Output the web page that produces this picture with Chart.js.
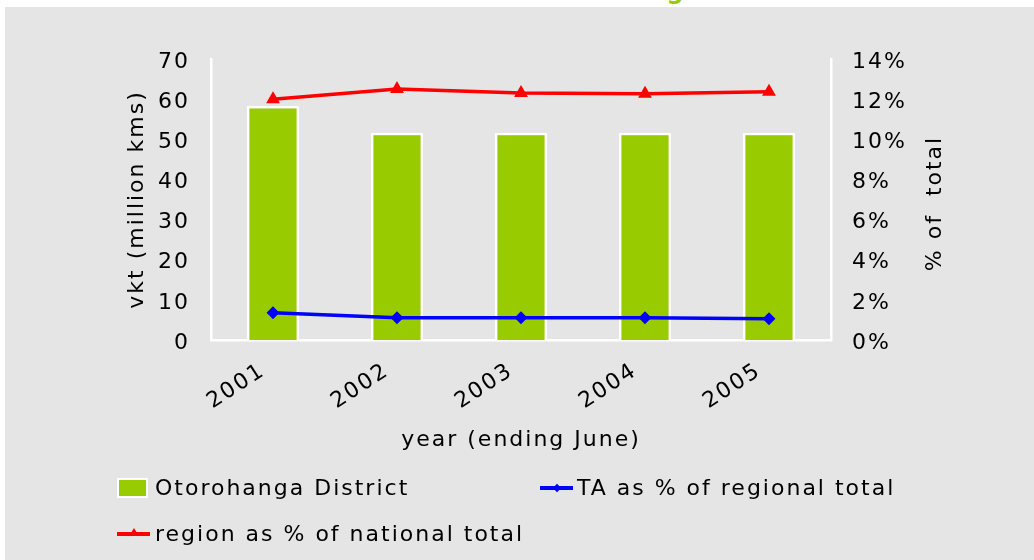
<!DOCTYPE html>
<html lang="en">
  <head>
    <meta charset="UTF-8" />
    <title>Otorohanga vkt</title>
    <script src="https://cdn.jsdelivr.net/npm/chart.js"></script>
    <style>
      body {
        margin: 0;
        width: 1034px;
        height: 560px;
        overflow: hidden;
        background: #ffffff;
        font-family: 'DejaVu Sans', sans-serif;
        letter-spacing: 2px;
        color: #000;
      }
      .panel {
        position: absolute;
        left: 5px;
        top: 7px;
        right: 0;
        bottom: 0;
        background: #e5e5e5;
      }
      .title {
        position: absolute;
        right: 334px;
        top: -21px;
        font-size: 24px;
        line-height: 1;
        font-weight: bold;
        letter-spacing: 0;
        color: #99cc00;
        white-space: nowrap;
      }
      .wrap {
        position: absolute;
        left: 0;
        top: 0;
        width: 1034px;
        height: 560px;
      }
      .legend-item {
        position: absolute;
        font-size: 22px;
        line-height: 26px;
        white-space: nowrap;
      }
      .swatch {
        position: absolute;
        box-sizing: border-box;
        width: 31px;
        height: 20px;
        background: #99cc00;
        border: 2px solid #fff;
      }
      .line {
        position: absolute;
        width: 33px;
        height: 4px;
      }
    </style>
  </head>
  <body>
    <div class="title">Otorohanga</div>
    <div class="panel"></div>
    <div class="wrap"><canvas id="chart"></canvas></div>

    <!-- Legend -->
    <div class="swatch" style="left:117px; top:478px;"></div>
    <div class="legend-item" style="left:155px; top:475px;">Otorohanga District</div>

    <div class="line" style="left:540px; top:486px; background:#0000ff;"></div>
    <div style="position:absolute; left:554px; top:485px; width:6px; height:6px; background:#0000ff; transform:rotate(45deg);"></div>
    <div class="legend-item" style="left:577px; top:475px;">TA as % of regional total</div>

    <div class="line" style="left:117px; top:532px; background:#ff0000;"></div>
    <div style="position:absolute; left:129px; top:528px; width:0; height:0; border-left:5px solid transparent; border-right:5px solid transparent; border-bottom:8px solid #ff0000;"></div>
    <div class="legend-item" style="left:155px; top:521px;">region as % of national total</div>

    <script>
      const years = ['2001', '2002', '2003', '2004', '2005'];
      const vktMillion = [58.3, 51.6, 51.6, 51.6, 51.6];
      const taPctOfRegion = [1.36, 1.11, 1.11, 1.11, 1.06];
      const regionPctOfNational = [12.0, 12.5, 12.31, 12.27, 12.37];
      const leftTicks = [0, 10, 20, 30, 40, 50, 60, 70];
      const rightTicks = [0, 2, 4, 6, 8, 10, 12, 14];

      Chart.defaults.font.family = 'DejaVu Sans';
      Chart.defaults.font.size = 22;
      Chart.defaults.color = '#000';

      // the original text is spaced out a bit (Verdana-like)
      const spacing = {
        id: 'spacing',
        beforeLayout(chart) { chart.ctx.letterSpacing = '2px'; },
        beforeDraw(chart) { chart.ctx.letterSpacing = '2px'; }
      };

      // right axis title reads bottom-to-top like the original
      const rightTitle = {
        id: 'rightTitle',
        afterDraw(chart) {
          const s = chart.scales.y1;
          const ctx = chart.ctx;
          ctx.save();
          ctx.translate(935, (s.top + s.bottom) / 2 + 4);
          ctx.rotate(-Math.PI / 2);
          ctx.font = '22px "DejaVu Sans"';
          ctx.letterSpacing = '2px';
          ctx.fillStyle = '#000';
          ctx.textAlign = 'center';
          ctx.textBaseline = 'middle';
          ctx.fillText('% of  total', 0, 0);
          ctx.restore();
        }
      };

      const ctx = document.getElementById('chart').getContext('2d');
      new Chart(ctx, {
        data: {
          labels: years,
          datasets: [
            {
              type: 'line',
              label: 'region as % of national total',
              data: regionPctOfNational,
              yAxisID: 'y1',
              borderColor: '#ff0000',
              backgroundColor: '#ff0000',
              borderWidth: 3.5,
              pointStyle: 'triangle',
              pointRadius: 4.5,
              tension: 0,
              order: 1
            },
            {
              type: 'line',
              label: 'TA as % of regional total',
              data: taPctOfRegion,
              yAxisID: 'y1',
              borderColor: '#0000ff',
              backgroundColor: '#0000ff',
              borderWidth: 3.5,
              pointStyle: 'rectRot',
              pointRadius: 4,
              tension: 0,
              order: 2
            },
            {
              type: 'bar',
              label: 'Otorohanga District',
              data: vktMillion,
              yAxisID: 'y',
              backgroundColor: '#99cc00',
              borderColor: '#ffffff',
              borderWidth: 2.5,
              categoryPercentage: 1,
              barPercentage: 0.42,
              order: 3
            }
          ]
        },
        options: {
          responsive: true,
          maintainAspectRatio: false,
          animation: false,
          layout: { padding: { left: 110, right: 0, top: 59, bottom: 100 } },
          plugins: {
            legend: { display: false },
            tooltip: { enabled: false }
          },
          scales: {
            x: {
              grid: { display: false, drawTicks: false },
              border: { color: '#ffffff', width: 2.5 },
              ticks: { minRotation: 33, maxRotation: 33, padding: 18, labelOffset: -10 },
              title: { display: true, text: 'year (ending June)', padding: { top: 0, bottom: 7 } },
              afterFit(scale) { scale.height = 120; }
            },
            y: {
              position: 'left',
              min: 0,
              max: 70,
              afterBuildTicks(scale) { scale.ticks = leftTicks.map(v => ({ value: v })); },
              grid: { display: false, drawTicks: false },
              border: { color: '#ffffff', width: 2.5 },
              ticks: { padding: 21, labelOffset: 3 },
              title: { display: true, text: 'vkt (million kms)', padding: { top: 14, bottom: 0 } },
              afterFit(scale) { scale.width = 101; }
            },
            y1: {
              position: 'right',
              min: 0,
              max: 14,
              afterBuildTicks(scale) { scale.ticks = rightTicks.map(v => ({ value: v })); },
              grid: { display: false, drawTicks: false },
              border: { color: '#ffffff', width: 2.5 },
              ticks: { padding: 21, labelOffset: 3, callback: v => v + '%' },
              afterFit(scale) { scale.width = 203; }
            }
          }
        },
        plugins: [spacing, rightTitle]
      });
    </script>
  </body>
</html>
